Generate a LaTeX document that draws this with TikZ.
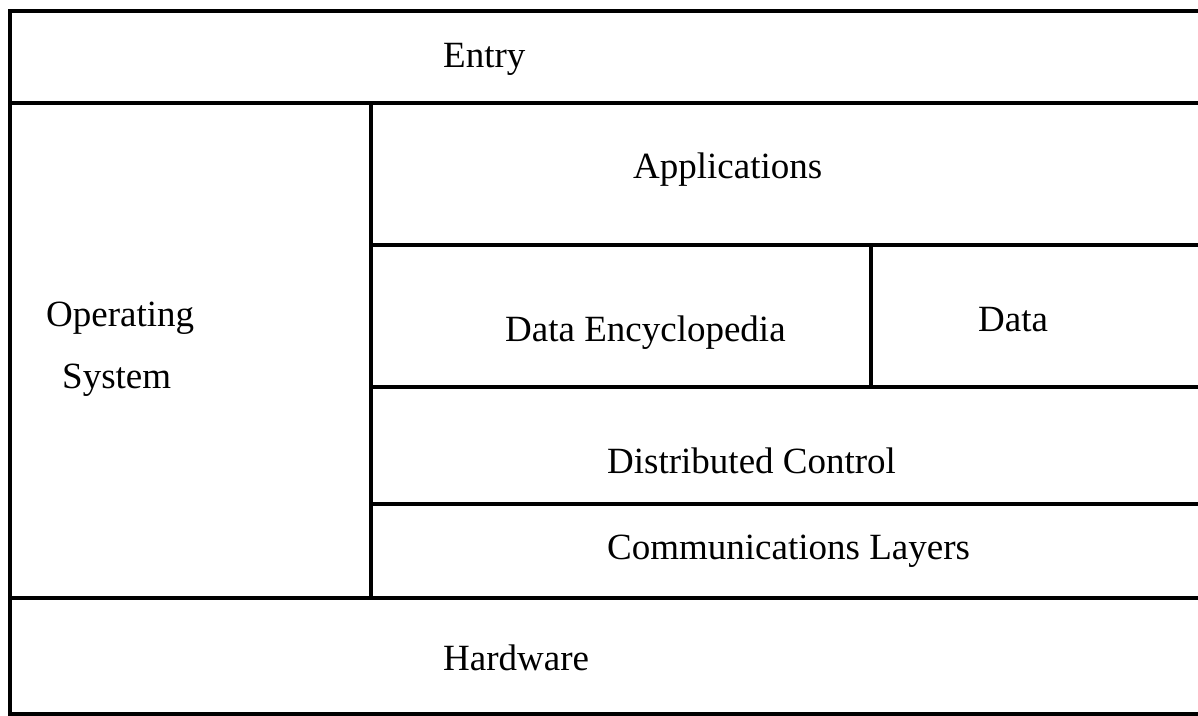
\documentclass[tikz,border=0pt]{standalone}
\usepackage{fontspec}
\setmainfont{Liberation Serif}
\begin{document}
\begin{tikzpicture}[x=1pt,y=-1pt,
  rule/.style={line width=3.6pt,line cap=rect},
  lbl/.style={anchor=base west,inner sep=0pt,font=\fontsize{37}{42}\selectfont}]
\useasboundingbox (0,0) rectangle (1198,715);
\clip (0,0) rectangle (1198,715);
\fill[white] (0,0) rectangle (1198,715);
% frame corners and dividers
\coordinate (tl) at (10,11);
\coordinate (tr) at (1215,11);
\coordinate (bl) at (10,714);
\coordinate (br) at (1215,714);
\coordinate (e1) at (10,103);   \coordinate (e2) at (1215,103);
\coordinate (h1) at (10,598);   \coordinate (h2) at (1215,598);
\coordinate (v1) at (371,103);  \coordinate (v2) at (371,598);
\coordinate (a1) at (371,245);  \coordinate (a2) at (1215,245);
\coordinate (d1) at (371,387);  \coordinate (d2) at (1215,387);
\coordinate (c1) at (371,504);  \coordinate (c2) at (1215,504);
\coordinate (s1) at (871,245);  \coordinate (s2) at (871,387);
\draw[rule] (tl) -- (tr) (tr) -- (br) (br) -- (bl) (bl) -- (tl);
\draw[rule] (e1) -- (e2);
\draw[rule] (h1) -- (h2);
\draw[rule] (v1) -- (v2);
\draw[rule] (a1) -- (a2);
\draw[rule] (d1) -- (d2);
\draw[rule] (c1) -- (c2);
\draw[rule] (s1) -- (s2);
% labels
\node[lbl] (entry) at (443,67) {Entry};
\node[lbl] (apps) at (633,178) {Applications};
\node[lbl] (os1) at (46,326) {Operating};
\node[lbl] (os2) at (62,388) {System};
\node[lbl] (enc) at (505,341) {Data Encyclopedia};
\node[lbl] (data) at (978,331) {Data};
\node[lbl] (dist) at (607,473) {Distributed Control};
\node[lbl] (comm) at (607,559) {Communications Layers};
\node[lbl] (hw) at (443,670) {Hardware};
\end{tikzpicture}
\end{document}
